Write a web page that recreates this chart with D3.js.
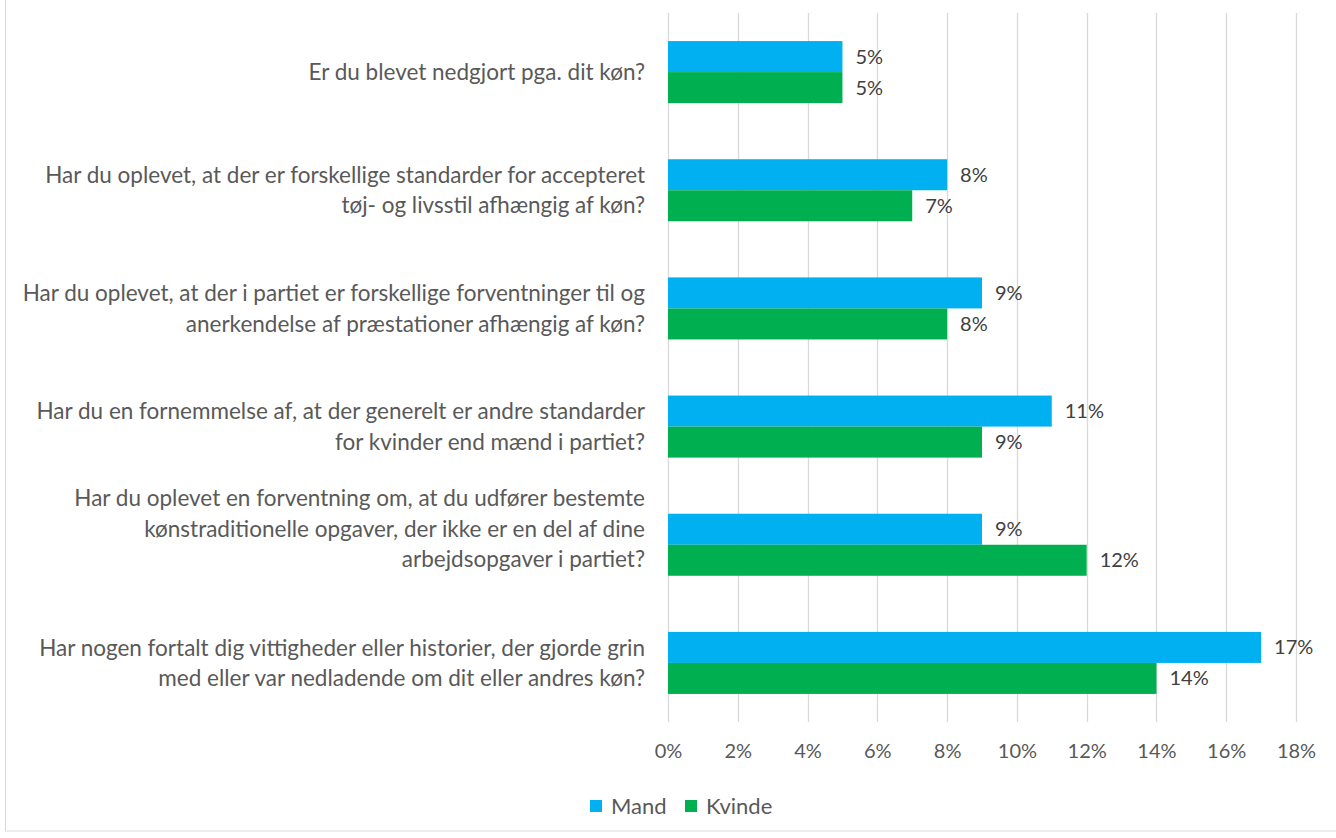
<!DOCTYPE html>
<html><head><meta charset="utf-8">
<script src="https://cdn.jsdelivr.net/npm/d3@7"></script>
<style>
html,body{margin:0;padding:0;background:#fff;}
svg{display:block;}
text{font-family:Lato,"Open Sans",sans-serif;}
</style></head>
<body>
<svg id="chart" width="1336" height="838"></svg>
<script>
const categories = [
  ["Er du blevet nedgjort pga. dit køn?"],
  ["Har du oplevet, at der er forskellige standarder for accepteret", "tøj- og livsstil afhængig af køn?"],
  ["Har du oplevet, at der i partiet er forskellige forventninger til og", "anerkendelse af præstationer afhængig af køn?"],
  ["Har du en fornemmelse af, at der generelt er andre standarder", "for kvinder end mænd i partiet?"],
  ["Har du oplevet en forventning om, at du udfører bestemte", "kønstraditionelle opgaver, der ikke er en del af dine", "arbejdsopgaver i partiet?"],
  ["Har nogen fortalt dig vittigheder eller historier, der gjorde grin", "med eller var nedladende om dit eller andres køn?"]
];
const seriesNames = ["Mand", "Kvinde"];
const mand   = [5, 8, 9, 11, 9, 17];
const kvinde = [5, 7, 8, 9, 12, 14];
const tickValues = [0, 2, 4, 6, 8, 10, 12, 14, 16, 18];
const colors = ["#00B0F0", "#00B050"];

(function () {
const svg = d3.select("#chart");
svg.append("rect").attr("x", 5.5).attr("y", -5).attr("width", 1340).attr("height", 836)
  .attr("fill", "none").attr("stroke", "#d9d9d9").attr("stroke-width", 1);

const pL = 668, pR = 1296, pT = 13, pB = 722;
const x = d3.scaleLinear().domain([0, 18]).range([pL, pR]);
const idx = d3.range(categories.length);
const y = d3.scaleBand().domain(idx).range([pT, pB]).paddingInner(0.475).paddingOuter(0.2375);
const ys = d3.scaleBand().domain([0, 1]).range([0, y.bandwidth()]);

svg.append("g").selectAll("line").data(tickValues).join("line")
  .attr("x1", d => Math.round(x(d)) + 0.5).attr("x2", d => Math.round(x(d)) + 0.5)
  .attr("y1", pT).attr("y2", pB)
  .attr("stroke", "#d9d9d9").attr("stroke-width", 1.3);

const ax = svg.append("g").attr("transform", `translate(0,${pB})`)
  .call(d3.axisBottom(x).tickValues(tickValues).tickFormat(d => d + "%").tickSize(0).tickPadding(22));
ax.select(".domain").remove();
ax.selectAll("text").attr("fill", "#595959").attr("font-size", 20).attr("font-family", "Lato, 'Open Sans', sans-serif");

const data = idx.map(i => [mand[i], kvinde[i]]);
const groups = svg.append("g").selectAll("g").data(data).join("g")
  .attr("transform", (d, i) => `translate(0,${y(i)})`);
groups.selectAll("rect").data(d => d).join("rect")
  .attr("x", x(0)).attr("y", (d, j) => ys(j)).attr("width", d => x(d) - x(0))
  .attr("height", ys.bandwidth()).attr("fill", (d, j) => colors[j]);
groups.selectAll("text").data(d => d).join("text")
  .attr("x", d => x(d) + 13).attr("y", (d, j) => ys(j) + ys.bandwidth() / 2)
  .attr("dy", "0.35em").attr("fill", "#404040").attr("font-size", 20)
  .text(d => d + "%");

const lh = 30.5;
const labels = svg.append("g").selectAll("text").data(categories).join("text")
  .attr("text-anchor", "end").attr("fill", "#595959").attr("font-size", 22.5)
  .attr("transform", (d, i) => {
    const c = y(i) + y.bandwidth() / 2;
    const shift = d.length > 2 ? -16 : 0;
    return `translate(645,${c - (d.length - 1) * lh / 2 + shift})`;
  });
labels.selectAll("tspan").data(d => d).join("tspan")
  .attr("x", 0).attr("y", (d, k) => k * lh).attr("dy", "0.35em").text(d => d);

const lg = svg.append("g").attr("transform", "translate(590,806)");
const items = lg.selectAll("g").data(seriesNames).join("g")
  .attr("transform", (d, i) => `translate(${i * 95},0)`);
items.append("rect").attr("x", 0).attr("y", -6).attr("width", 12).attr("height", 12)
  .attr("fill", (d, i) => colors[i]);
items.append("text").attr("x", 21).attr("dy", "0.35em").attr("fill", "#595959")
  .attr("font-size", 22).text(d => d);
})();
</script>
</body></html>
